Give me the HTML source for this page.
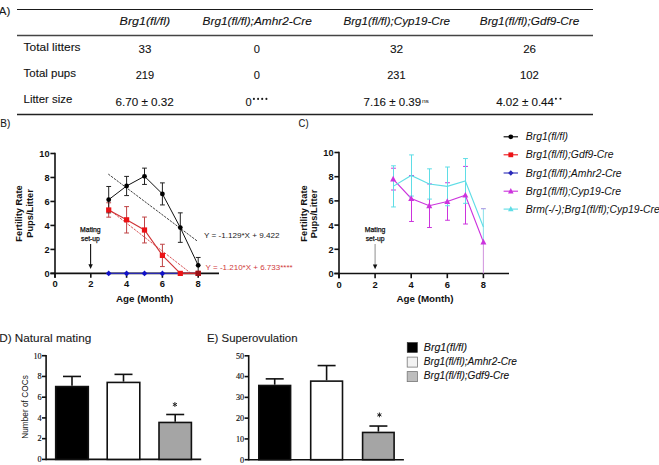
<!DOCTYPE html>
<html><head><meta charset="utf-8"><style>
html,body{margin:0;padding:0;background:#fff;width:659px;height:465px;overflow:hidden;}
svg{display:block;}
</style></head><body>
<svg width="659" height="465" viewBox="0 0 659 465">
<rect width="659" height="465" fill="#fff"/>
<text x="-1.2" y="15.3" font-size="10.8" text-anchor="start" font-weight="normal" font-style="normal" fill="#1a1a1a" font-family='"Liberation Sans", sans-serif' stroke="#1a1a1a" stroke-width="0.1" textLength="11.5" lengthAdjust="spacingAndGlyphs" >A)</text>
<line x1="17" y1="9.5" x2="593" y2="9.5" stroke="#1a1a1a" stroke-width="1.2" />
<line x1="17" y1="35.6" x2="593" y2="35.6" stroke="#444" stroke-width="1.5" />
<line x1="17" y1="114.5" x2="593" y2="114.5" stroke="#222" stroke-width="1.3" />
<text x="119.6" y="24.6" font-size="10.8" text-anchor="start" font-weight="normal" font-style="italic" fill="#111" font-family='"Liberation Sans", sans-serif' stroke="#111" stroke-width="0.1" textLength="50.5" lengthAdjust="spacingAndGlyphs" >Brg1(fl/fl)</text>
<text x="202.6" y="24.6" font-size="10.8" text-anchor="start" font-weight="normal" font-style="italic" fill="#111" font-family='"Liberation Sans", sans-serif' stroke="#111" stroke-width="0.1" textLength="109.2" lengthAdjust="spacingAndGlyphs" >Brg1(fl/fl);Amhr2-Cre</text>
<text x="343.4" y="24.6" font-size="10.8" text-anchor="start" font-weight="normal" font-style="italic" fill="#111" font-family='"Liberation Sans", sans-serif' stroke="#111" stroke-width="0.1" textLength="106.6" lengthAdjust="spacingAndGlyphs" >Brg1(fl/fl);Cyp19-Cre</text>
<text x="479.8" y="24.6" font-size="10.8" text-anchor="start" font-weight="normal" font-style="italic" fill="#111" font-family='"Liberation Sans", sans-serif' stroke="#111" stroke-width="0.1" textLength="99.4" lengthAdjust="spacingAndGlyphs" >Brg1(fl/fl);Gdf9-Cre</text>
<text x="23.6" y="50.6" font-size="10.8" text-anchor="start" font-weight="normal" font-style="normal" fill="#111" font-family='"Liberation Sans", sans-serif' stroke="#111" stroke-width="0.1" textLength="57" lengthAdjust="spacingAndGlyphs" >Total litters</text>
<text x="23.6" y="76.6" font-size="10.8" text-anchor="start" font-weight="normal" font-style="normal" fill="#111" font-family='"Liberation Sans", sans-serif' stroke="#111" stroke-width="0.1" textLength="52.4" lengthAdjust="spacingAndGlyphs" >Total pups</text>
<text x="23.6" y="103.0" font-size="10.8" text-anchor="start" font-weight="normal" font-style="normal" fill="#111" font-family='"Liberation Sans", sans-serif' stroke="#111" stroke-width="0.1" textLength="48.6" lengthAdjust="spacingAndGlyphs" >Litter size</text>
<text x="144.9" y="53.0" font-size="10.8" text-anchor="middle" font-weight="normal" font-style="normal" fill="#111" font-family='"Liberation Sans", sans-serif' stroke="#111" stroke-width="0.1" textLength="12.8" lengthAdjust="spacingAndGlyphs" >33</text>
<text x="144.9" y="79.0" font-size="10.8" text-anchor="middle" font-weight="normal" font-style="normal" fill="#111" font-family='"Liberation Sans", sans-serif' stroke="#111" stroke-width="0.1" textLength="18.4" lengthAdjust="spacingAndGlyphs" >219</text>
<text x="115.6" y="105.5" font-size="10.8" text-anchor="start" font-weight="normal" font-style="normal" fill="#111" font-family='"Liberation Sans", sans-serif' stroke="#111" stroke-width="0.1" textLength="58.2" lengthAdjust="spacingAndGlyphs" >6.70 ± 0.32</text>
<text x="256.9" y="53.0" font-size="10.8" text-anchor="middle" font-weight="normal" font-style="normal" fill="#111" font-family='"Liberation Sans", sans-serif' stroke="#111" stroke-width="0.1" textLength="6.2" lengthAdjust="spacingAndGlyphs" >0</text>
<text x="256.9" y="79.0" font-size="10.8" text-anchor="middle" font-weight="normal" font-style="normal" fill="#111" font-family='"Liberation Sans", sans-serif' stroke="#111" stroke-width="0.1" textLength="6.2" lengthAdjust="spacingAndGlyphs" >0</text>
<text x="245.4" y="105.5" font-size="10.8" text-anchor="start" font-weight="normal" font-style="normal" fill="#111" font-family='"Liberation Sans", sans-serif' stroke="#111" stroke-width="0.1" textLength="6.2" lengthAdjust="spacingAndGlyphs" >0</text>
<circle cx="253.9" cy="98.9" r="1.05" fill="#1a1a1a"/>
<circle cx="258.1" cy="98.9" r="1.05" fill="#1a1a1a"/>
<circle cx="262.2" cy="98.9" r="1.05" fill="#1a1a1a"/>
<circle cx="266.4" cy="98.9" r="1.05" fill="#1a1a1a"/>
<text x="396.5" y="53.0" font-size="10.8" text-anchor="middle" font-weight="normal" font-style="normal" fill="#111" font-family='"Liberation Sans", sans-serif' stroke="#111" stroke-width="0.1" textLength="13.2" lengthAdjust="spacingAndGlyphs" >32</text>
<text x="396.4" y="79.0" font-size="10.8" text-anchor="middle" font-weight="normal" font-style="normal" fill="#111" font-family='"Liberation Sans", sans-serif' stroke="#111" stroke-width="0.1" textLength="18.2" lengthAdjust="spacingAndGlyphs" >231</text>
<text x="363.6" y="105.5" font-size="10.8" text-anchor="start" font-weight="normal" font-style="normal" fill="#111" font-family='"Liberation Sans", sans-serif' stroke="#111" stroke-width="0.1" textLength="57.6" lengthAdjust="spacingAndGlyphs" >7.16 ± 0.39</text>
<text x="421.9" y="103.2" font-size="6.0" text-anchor="start" font-weight="normal" font-style="normal" fill="#111" font-family='"Liberation Sans", sans-serif' textLength="7.0" lengthAdjust="spacingAndGlyphs" >ns</text>
<text x="529.6" y="53.0" font-size="10.8" text-anchor="middle" font-weight="normal" font-style="normal" fill="#111" font-family='"Liberation Sans", sans-serif' stroke="#111" stroke-width="0.1" textLength="12.8" lengthAdjust="spacingAndGlyphs" >26</text>
<text x="529.4" y="79.0" font-size="10.8" text-anchor="middle" font-weight="normal" font-style="normal" fill="#111" font-family='"Liberation Sans", sans-serif' stroke="#111" stroke-width="0.1" textLength="18.8" lengthAdjust="spacingAndGlyphs" >102</text>
<text x="496.2" y="105.5" font-size="10.8" text-anchor="start" font-weight="normal" font-style="normal" fill="#111" font-family='"Liberation Sans", sans-serif' stroke="#111" stroke-width="0.1" textLength="57.8" lengthAdjust="spacingAndGlyphs" >4.02 ± 0.44</text>
<circle cx="555.9" cy="98.8" r="1.05" fill="#1a1a1a"/>
<circle cx="560.5" cy="98.8" r="1.05" fill="#1a1a1a"/>
<text x="0.3" y="127.4" font-size="10.8" text-anchor="start" font-weight="normal" font-style="normal" fill="#1a1a1a" font-family='"Liberation Sans", sans-serif' stroke="#1a1a1a" stroke-width="0.1" textLength="10" lengthAdjust="spacingAndGlyphs" >B)</text>
<line x1="55.0" y1="152.69999999999996" x2="55.0" y2="277.8" stroke="#111" stroke-width="1.6" />
<line x1="50.4" y1="273.4" x2="219" y2="273.4" stroke="#111" stroke-width="1.6" />
<line x1="50.4" y1="273.4" x2="55.0" y2="273.4" stroke="#111" stroke-width="1.6" />
<text x="49.5" y="276.9" font-size="9.2" text-anchor="end" font-weight="bold" font-style="normal" fill="#111" font-family='"Liberation Sans", sans-serif' >0</text>
<line x1="50.4" y1="249.42" x2="55.0" y2="249.42" stroke="#111" stroke-width="1.6" />
<text x="49.5" y="252.92" font-size="9.2" text-anchor="end" font-weight="bold" font-style="normal" fill="#111" font-family='"Liberation Sans", sans-serif' >2</text>
<line x1="50.4" y1="225.43999999999997" x2="55.0" y2="225.43999999999997" stroke="#111" stroke-width="1.6" />
<text x="49.5" y="228.93999999999997" font-size="9.2" text-anchor="end" font-weight="bold" font-style="normal" fill="#111" font-family='"Liberation Sans", sans-serif' >4</text>
<line x1="50.4" y1="201.45999999999998" x2="55.0" y2="201.45999999999998" stroke="#111" stroke-width="1.6" />
<text x="49.5" y="204.95999999999998" font-size="9.2" text-anchor="end" font-weight="bold" font-style="normal" fill="#111" font-family='"Liberation Sans", sans-serif' >6</text>
<line x1="50.4" y1="177.47999999999996" x2="55.0" y2="177.47999999999996" stroke="#111" stroke-width="1.6" />
<text x="49.5" y="180.97999999999996" font-size="9.2" text-anchor="end" font-weight="bold" font-style="normal" fill="#111" font-family='"Liberation Sans", sans-serif' >8</text>
<line x1="50.4" y1="153.49999999999997" x2="55.0" y2="153.49999999999997" stroke="#111" stroke-width="1.6" />
<text x="49.5" y="156.99999999999997" font-size="9.2" text-anchor="end" font-weight="bold" font-style="normal" fill="#111" font-family='"Liberation Sans", sans-serif' >10</text>
<line x1="55.0" y1="273.4" x2="55.0" y2="277.8" stroke="#111" stroke-width="1.6" />
<text x="55.0" y="287.3" font-size="9.4" text-anchor="middle" font-weight="bold" font-style="normal" fill="#111" font-family='"Liberation Sans", sans-serif' >0</text>
<line x1="90.8" y1="273.4" x2="90.8" y2="277.8" stroke="#111" stroke-width="1.6" />
<text x="90.8" y="287.3" font-size="9.4" text-anchor="middle" font-weight="bold" font-style="normal" fill="#111" font-family='"Liberation Sans", sans-serif' >2</text>
<line x1="126.6" y1="273.4" x2="126.6" y2="277.8" stroke="#111" stroke-width="1.6" />
<text x="126.6" y="287.3" font-size="9.4" text-anchor="middle" font-weight="bold" font-style="normal" fill="#111" font-family='"Liberation Sans", sans-serif' >4</text>
<line x1="162.39999999999998" y1="273.4" x2="162.39999999999998" y2="277.8" stroke="#111" stroke-width="1.6" />
<text x="162.39999999999998" y="287.3" font-size="9.4" text-anchor="middle" font-weight="bold" font-style="normal" fill="#111" font-family='"Liberation Sans", sans-serif' >6</text>
<line x1="198.2" y1="273.4" x2="198.2" y2="277.8" stroke="#111" stroke-width="1.6" />
<text x="198.2" y="287.3" font-size="9.4" text-anchor="middle" font-weight="bold" font-style="normal" fill="#111" font-family='"Liberation Sans", sans-serif' >8</text>
<text transform="translate(22.3,213.5) rotate(-90)" font-size="9.3" font-weight="bold" text-anchor="middle" font-family='"Liberation Sans", sans-serif' fill="#111">Fertility Rate</text>
<text transform="translate(32.6,213.5) rotate(-90)" font-size="9.3" font-weight="bold" text-anchor="middle" font-family='"Liberation Sans", sans-serif' fill="#111">Pups/Litter</text>
<text x="144.6" y="301.9" font-size="9.8" text-anchor="middle" font-weight="bold" font-style="normal" fill="#111" font-family='"Liberation Sans", sans-serif' >Age (Month)</text>
<text x="90.4" y="231.9" font-size="6.8" text-anchor="middle" font-weight="normal" font-style="normal" fill="#111" font-family='"Liberation Sans", sans-serif' stroke="#111" stroke-width="0.25" textLength="20.6" lengthAdjust="spacingAndGlyphs" >Mating</text>
<text x="90.4" y="240.9" font-size="6.8" text-anchor="middle" font-weight="normal" font-style="normal" fill="#111" font-family='"Liberation Sans", sans-serif' stroke="#111" stroke-width="0.25" textLength="18.8" lengthAdjust="spacingAndGlyphs" >set-up</text>
<line x1="90.6" y1="244" x2="90.6" y2="265" stroke="#111" stroke-width="1.1" />
<polygon points="88.4,264.2 92.8,264.2 90.6,269" fill="#111"/>
<line x1="108.3" y1="174.1" x2="197.6" y2="241.3" stroke="#1a1a1a" stroke-width="0.85" stroke-dasharray="2.4,1.1"/>
<line x1="109" y1="209.5" x2="190.5" y2="273" stroke="#cf3336" stroke-width="0.85" stroke-dasharray="2.4,1.1"/>
<polyline points="108.70,273.40 126.60,273.40 144.50,273.40 162.40,273.40 180.30,273.40 198.20,273.40" fill="none" stroke="#2a2ab0" stroke-width="1.1"/>
<line x1="108.69999999999999" y1="202.77889999999996" x2="108.69999999999999" y2="217.16689999999997" stroke="#bf4244" stroke-width="1.0" />
<line x1="106.29999999999998" y1="202.77889999999996" x2="111.1" y2="202.77889999999996" stroke="#bf4244" stroke-width="1.0" />
<line x1="106.29999999999998" y1="217.16689999999997" x2="111.1" y2="217.16689999999997" stroke="#bf4244" stroke-width="1.0" />
<line x1="126.6" y1="206.61569999999998" x2="126.6" y2="232.9937" stroke="#bf4244" stroke-width="1.0" />
<line x1="124.19999999999999" y1="206.61569999999998" x2="129.0" y2="206.61569999999998" stroke="#bf4244" stroke-width="1.0" />
<line x1="124.19999999999999" y1="232.9937" x2="129.0" y2="232.9937" stroke="#bf4244" stroke-width="1.0" />
<line x1="144.5" y1="217.04699999999997" x2="144.5" y2="242.94539999999998" stroke="#bf4244" stroke-width="1.0" />
<line x1="142.1" y1="217.04699999999997" x2="146.9" y2="217.04699999999997" stroke="#bf4244" stroke-width="1.0" />
<line x1="142.1" y1="242.94539999999998" x2="146.9" y2="242.94539999999998" stroke="#bf4244" stroke-width="1.0" />
<line x1="162.39999999999998" y1="244.26429999999996" x2="162.39999999999998" y2="266.5657" stroke="#bf4244" stroke-width="1.0" />
<line x1="159.99999999999997" y1="244.26429999999996" x2="164.79999999999998" y2="244.26429999999996" stroke="#bf4244" stroke-width="1.0" />
<line x1="159.99999999999997" y1="266.5657" x2="164.79999999999998" y2="266.5657" stroke="#bf4244" stroke-width="1.0" />
<polyline points="108.70,209.97 126.60,219.80 144.50,230.00 162.40,255.41 180.30,273.40 198.20,273.40" fill="none" stroke="#cf3336" stroke-width="1.1"/>
<line x1="180.29999999999998" y1="273.4" x2="198.2" y2="273.4" stroke="#c8282c" stroke-width="1.4" />
<line x1="108.69999999999999" y1="186.47249999999997" x2="108.69999999999999" y2="212.85049999999995" stroke="#222" stroke-width="1.0" />
<line x1="106.29999999999998" y1="186.47249999999997" x2="111.1" y2="186.47249999999997" stroke="#222" stroke-width="1.0" />
<line x1="106.29999999999998" y1="212.85049999999995" x2="111.1" y2="212.85049999999995" stroke="#222" stroke-width="1.0" />
<line x1="126.6" y1="176.40089999999998" x2="126.6" y2="195.58489999999998" stroke="#222" stroke-width="1.0" />
<line x1="124.19999999999999" y1="176.40089999999998" x2="129.0" y2="176.40089999999998" stroke="#222" stroke-width="1.0" />
<line x1="124.19999999999999" y1="195.58489999999998" x2="129.0" y2="195.58489999999998" stroke="#222" stroke-width="1.0" />
<line x1="144.5" y1="168.12779999999998" x2="144.5" y2="184.43419999999998" stroke="#222" stroke-width="1.0" />
<line x1="142.1" y1="168.12779999999998" x2="146.9" y2="168.12779999999998" stroke="#222" stroke-width="1.0" />
<line x1="142.1" y1="184.43419999999998" x2="146.9" y2="184.43419999999998" stroke="#222" stroke-width="1.0" />
<line x1="162.39999999999998" y1="182.8755" x2="162.39999999999998" y2="204.9371" stroke="#222" stroke-width="1.0" />
<line x1="159.99999999999997" y1="182.8755" x2="164.79999999999998" y2="182.8755" stroke="#222" stroke-width="1.0" />
<line x1="159.99999999999997" y1="204.9371" x2="164.79999999999998" y2="204.9371" stroke="#222" stroke-width="1.0" />
<line x1="180.29999999999998" y1="212.85049999999998" x2="180.29999999999998" y2="242.34589999999997" stroke="#222" stroke-width="1.0" />
<line x1="177.89999999999998" y1="212.85049999999998" x2="182.7" y2="212.85049999999998" stroke="#222" stroke-width="1.0" />
<line x1="177.89999999999998" y1="242.34589999999997" x2="182.7" y2="242.34589999999997" stroke="#222" stroke-width="1.0" />
<line x1="198.2" y1="257.45329999999996" x2="198.2" y2="273.2801" stroke="#222" stroke-width="1.0" />
<line x1="195.79999999999998" y1="257.45329999999996" x2="200.6" y2="257.45329999999996" stroke="#222" stroke-width="1.0" />
<line x1="195.79999999999998" y1="273.2801" x2="200.6" y2="273.2801" stroke="#222" stroke-width="1.0" />
<polyline points="108.70,199.66 126.60,185.99 144.50,176.28 162.40,193.91 180.30,227.60 198.20,265.37" fill="none" stroke="#111" stroke-width="1.0"/>
<polygon points="105.80,273.40 108.70,270.50 111.60,273.40 108.70,276.30" fill="#1212c8"/>
<polygon points="123.70,273.40 126.60,270.50 129.50,273.40 126.60,276.30" fill="#1212c8"/>
<polygon points="141.60,273.40 144.50,270.50 147.40,273.40 144.50,276.30" fill="#1212c8"/>
<polygon points="159.50,273.40 162.40,270.50 165.30,273.40 162.40,276.30" fill="#1212c8"/>
<circle cx="108.70" cy="199.66" r="2.4" fill="#000"/>
<circle cx="126.60" cy="185.99" r="2.4" fill="#000"/>
<circle cx="144.50" cy="176.28" r="2.4" fill="#000"/>
<circle cx="162.40" cy="193.91" r="2.4" fill="#000"/>
<circle cx="180.30" cy="227.60" r="2.4" fill="#000"/>
<circle cx="198.20" cy="265.37" r="2.4" fill="#000"/>
<rect x="106.10" y="207.37" width="5.2" height="5.2" fill="#ec1216"/>
<rect x="124.00" y="217.20" width="5.2" height="5.2" fill="#ec1216"/>
<rect x="141.90" y="227.40" width="5.2" height="5.2" fill="#ec1216"/>
<rect x="159.80" y="252.81" width="5.2" height="5.2" fill="#ec1216"/>
<rect x="177.70" y="270.80" width="5.2" height="5.2" fill="#ec1216"/>
<rect x="195.60" y="270.80" width="5.2" height="5.2" fill="#ec1216"/>
<rect x="195.60" y="270.80" width="5.2" height="5.2" fill="#9b1016"/>
<text x="204.0" y="237.9" font-size="8.1" text-anchor="start" font-weight="normal" font-style="normal" fill="#222" font-family='"Liberation Sans", sans-serif' >Y = -1.129*X + 9.422</text>
<text x="205.6" y="270.1" font-size="8.0" text-anchor="start" font-weight="normal" font-style="normal" fill="#d0393b" font-family='"Liberation Sans", sans-serif' >Y = -1.210*X + 6.733****</text>
<text x="298.6" y="127.4" font-size="10.8" text-anchor="start" font-weight="normal" font-style="normal" fill="#1a1a1a" font-family='"Liberation Sans", sans-serif' stroke="#1a1a1a" stroke-width="0.1" textLength="10" lengthAdjust="spacingAndGlyphs" >C)</text>
<line x1="339.0" y1="151.7" x2="339.0" y2="278.2" stroke="#111" stroke-width="1.6" />
<line x1="334.4" y1="273.5" x2="509" y2="273.5" stroke="#111" stroke-width="1.6" />
<line x1="334.4" y1="273.5" x2="339.0" y2="273.5" stroke="#111" stroke-width="1.6" />
<text x="333.5" y="277.0" font-size="9.2" text-anchor="end" font-weight="bold" font-style="normal" fill="#111" font-family='"Liberation Sans", sans-serif' >0</text>
<line x1="334.4" y1="249.3" x2="339.0" y2="249.3" stroke="#111" stroke-width="1.6" />
<text x="333.5" y="252.8" font-size="9.2" text-anchor="end" font-weight="bold" font-style="normal" fill="#111" font-family='"Liberation Sans", sans-serif' >2</text>
<line x1="334.4" y1="225.1" x2="339.0" y2="225.1" stroke="#111" stroke-width="1.6" />
<text x="333.5" y="228.6" font-size="9.2" text-anchor="end" font-weight="bold" font-style="normal" fill="#111" font-family='"Liberation Sans", sans-serif' >4</text>
<line x1="334.4" y1="200.9" x2="339.0" y2="200.9" stroke="#111" stroke-width="1.6" />
<text x="333.5" y="204.4" font-size="9.2" text-anchor="end" font-weight="bold" font-style="normal" fill="#111" font-family='"Liberation Sans", sans-serif' >6</text>
<line x1="334.4" y1="176.7" x2="339.0" y2="176.7" stroke="#111" stroke-width="1.6" />
<text x="333.5" y="180.2" font-size="9.2" text-anchor="end" font-weight="bold" font-style="normal" fill="#111" font-family='"Liberation Sans", sans-serif' >8</text>
<line x1="334.4" y1="152.5" x2="339.0" y2="152.5" stroke="#111" stroke-width="1.6" />
<text x="333.5" y="156.0" font-size="9.2" text-anchor="end" font-weight="bold" font-style="normal" fill="#111" font-family='"Liberation Sans", sans-serif' >10</text>
<line x1="339.0" y1="273.5" x2="339.0" y2="278.2" stroke="#111" stroke-width="1.6" />
<text x="339.0" y="287.8" font-size="9.4" text-anchor="middle" font-weight="bold" font-style="normal" fill="#111" font-family='"Liberation Sans", sans-serif' >0</text>
<line x1="375.1" y1="273.5" x2="375.1" y2="278.2" stroke="#111" stroke-width="1.6" />
<text x="375.1" y="287.8" font-size="9.4" text-anchor="middle" font-weight="bold" font-style="normal" fill="#111" font-family='"Liberation Sans", sans-serif' >2</text>
<line x1="411.2" y1="273.5" x2="411.2" y2="278.2" stroke="#111" stroke-width="1.6" />
<text x="411.2" y="287.8" font-size="9.4" text-anchor="middle" font-weight="bold" font-style="normal" fill="#111" font-family='"Liberation Sans", sans-serif' >4</text>
<line x1="447.3" y1="273.5" x2="447.3" y2="278.2" stroke="#111" stroke-width="1.6" />
<text x="447.3" y="287.8" font-size="9.4" text-anchor="middle" font-weight="bold" font-style="normal" fill="#111" font-family='"Liberation Sans", sans-serif' >6</text>
<line x1="483.4" y1="273.5" x2="483.4" y2="278.2" stroke="#111" stroke-width="1.6" />
<text x="483.4" y="287.8" font-size="9.4" text-anchor="middle" font-weight="bold" font-style="normal" fill="#111" font-family='"Liberation Sans", sans-serif' >8</text>
<text transform="translate(307.0,213.5) rotate(-90)" font-size="9.3" font-weight="bold" text-anchor="middle" font-family='"Liberation Sans", sans-serif' fill="#111">Fertility Rate</text>
<text transform="translate(317.2,214) rotate(-90)" font-size="9.3" font-weight="bold" text-anchor="middle" font-family='"Liberation Sans", sans-serif' fill="#111">Pups/Litter</text>
<text x="425.0" y="302.0" font-size="9.8" text-anchor="middle" font-weight="bold" font-style="normal" fill="#111" font-family='"Liberation Sans", sans-serif' >Age (Month)</text>
<text x="375.1" y="231.9" font-size="6.8" text-anchor="middle" font-weight="normal" font-style="normal" fill="#111" font-family='"Liberation Sans", sans-serif' stroke="#111" stroke-width="0.25" textLength="20.6" lengthAdjust="spacingAndGlyphs" >Mating</text>
<text x="375.1" y="240.9" font-size="6.8" text-anchor="middle" font-weight="normal" font-style="normal" fill="#111" font-family='"Liberation Sans", sans-serif' stroke="#111" stroke-width="0.25" textLength="18.8" lengthAdjust="spacingAndGlyphs" >set-up</text>
<line x1="375.1" y1="244" x2="375.1" y2="265" stroke="#999" stroke-width="1.1" />
<polygon points="372.9,264.4 377.3,264.4 375.1,269.2" fill="#111"/>
<line x1="393.5" y1="168.23000000000002" x2="393.5" y2="190.01" stroke="#cc33dd" stroke-width="1.0" />
<line x1="391.1" y1="168.23000000000002" x2="395.9" y2="168.23000000000002" stroke="#cc33dd" stroke-width="1.0" />
<line x1="391.1" y1="190.01" x2="395.9" y2="190.01" stroke="#cc33dd" stroke-width="1.0" />
<line x1="411.5" y1="175.49" x2="411.5" y2="221.47" stroke="#cc33dd" stroke-width="1.0" />
<line x1="409.1" y1="175.49" x2="413.9" y2="175.49" stroke="#cc33dd" stroke-width="1.0" />
<line x1="409.1" y1="221.47" x2="413.9" y2="221.47" stroke="#cc33dd" stroke-width="1.0" />
<line x1="429.5" y1="183.96" x2="429.5" y2="227.52" stroke="#cc33dd" stroke-width="1.0" />
<line x1="427.1" y1="183.96" x2="431.9" y2="183.96" stroke="#cc33dd" stroke-width="1.0" />
<line x1="427.1" y1="227.52" x2="431.9" y2="227.52" stroke="#cc33dd" stroke-width="1.0" />
<line x1="447.5" y1="182.75" x2="447.5" y2="220.26" stroke="#cc33dd" stroke-width="1.0" />
<line x1="445.1" y1="182.75" x2="449.9" y2="182.75" stroke="#cc33dd" stroke-width="1.0" />
<line x1="445.1" y1="220.26" x2="449.9" y2="220.26" stroke="#cc33dd" stroke-width="1.0" />
<line x1="465.5" y1="166.41500000000002" x2="465.5" y2="224.011" stroke="#cc33dd" stroke-width="1.0" />
<line x1="463.1" y1="166.41500000000002" x2="467.9" y2="166.41500000000002" stroke="#cc33dd" stroke-width="1.0" />
<line x1="463.1" y1="224.011" x2="467.9" y2="224.011" stroke="#cc33dd" stroke-width="1.0" />
<polyline points="393.15,179.12 411.20,198.48 429.25,205.74 447.30,201.50 465.35,195.21 483.40,242.04" fill="none" stroke="#cc33dd" stroke-width="1.1"/>
<line x1="483.4" y1="273.5" x2="483.4" y2="242.04" stroke="#d49be0" stroke-width="1.1" />
<line x1="483.4" y1="244.46" x2="483.4" y2="208.644" stroke="#93e3ec" stroke-width="1.1" />
<line x1="481.0" y1="208.644" x2="485.79999999999995" y2="208.644" stroke="#b3a6e6" stroke-width="1.3" />
<line x1="393.5" y1="165.81" x2="393.5" y2="206.95" stroke="#5fdde6" stroke-width="1.0" />
<line x1="391.1" y1="165.81" x2="395.9" y2="165.81" stroke="#5fdde6" stroke-width="1.0" />
<line x1="391.1" y1="206.95" x2="395.9" y2="206.95" stroke="#5fdde6" stroke-width="1.0" />
<line x1="411.5" y1="154.92000000000002" x2="411.5" y2="196.06" stroke="#5fdde6" stroke-width="1.0" />
<line x1="409.1" y1="154.92000000000002" x2="413.9" y2="154.92000000000002" stroke="#5fdde6" stroke-width="1.0" />
<line x1="409.1" y1="196.06" x2="413.9" y2="196.06" stroke="#5fdde6" stroke-width="1.0" />
<line x1="429.5" y1="168.83499999999998" x2="429.5" y2="199.08499999999998" stroke="#5fdde6" stroke-width="1.0" />
<line x1="427.1" y1="168.83499999999998" x2="431.9" y2="168.83499999999998" stroke="#5fdde6" stroke-width="1.0" />
<line x1="427.1" y1="199.08499999999998" x2="431.9" y2="199.08499999999998" stroke="#5fdde6" stroke-width="1.0" />
<line x1="447.5" y1="167.01999999999998" x2="447.5" y2="205.74" stroke="#5fdde6" stroke-width="1.0" />
<line x1="445.1" y1="167.01999999999998" x2="449.9" y2="167.01999999999998" stroke="#5fdde6" stroke-width="1.0" />
<line x1="445.1" y1="205.74" x2="449.9" y2="205.74" stroke="#5fdde6" stroke-width="1.0" />
<line x1="465.5" y1="158.55" x2="465.5" y2="203.32" stroke="#5fdde6" stroke-width="1.0" />
<line x1="463.1" y1="158.55" x2="467.9" y2="158.55" stroke="#5fdde6" stroke-width="1.0" />
<line x1="463.1" y1="203.32" x2="467.9" y2="203.32" stroke="#5fdde6" stroke-width="1.0" />
<polyline points="393.15,186.38 411.20,175.49 429.25,183.96 447.30,186.38 465.35,180.94 483.40,227.04" fill="none" stroke="#5fdde6" stroke-width="1.1"/>
<polygon points="390.15,181.52 393.15,175.82 396.15,181.52" fill="#cc33dd"/>
<polygon points="408.20,200.88 411.20,195.18 414.20,200.88" fill="#cc33dd"/>
<polygon points="426.25,208.14 429.25,202.44 432.25,208.14" fill="#cc33dd"/>
<polygon points="444.30,203.91 447.30,198.20 450.30,203.91" fill="#cc33dd"/>
<polygon points="462.35,197.61 465.35,191.91 468.35,197.61" fill="#cc33dd"/>
<polygon points="480.40,244.44 483.40,238.74 486.40,244.44" fill="#cc33dd"/>
<line x1="503.6" y1="136.8" x2="518" y2="136.8" stroke="#000" stroke-width="1.1" />
<circle cx="510.80" cy="136.80" r="2.4" fill="#000"/>
<text x="525.8" y="140.3" font-size="10.4" text-anchor="start" font-weight="normal" font-style="italic" fill="#111" font-family='"Liberation Sans", sans-serif' >Brg1(fl/fl)</text>
<line x1="503.6" y1="154.8" x2="518" y2="154.8" stroke="#ec1216" stroke-width="1.1" />
<rect x="508.40" y="152.40" width="4.8" height="4.8" fill="#ec1216"/>
<text x="525.8" y="158.3" font-size="10.4" text-anchor="start" font-weight="normal" font-style="italic" fill="#111" font-family='"Liberation Sans", sans-serif' >Brg1(fl/fl);Gdf9-Cre</text>
<line x1="503.6" y1="173.0" x2="518" y2="173.0" stroke="#2a2ab8" stroke-width="1.1" />
<polygon points="508.10,173.00 510.80,170.30 513.50,173.00 510.80,175.70" fill="#2a2ab8"/>
<text x="525.8" y="176.5" font-size="10.4" text-anchor="start" font-weight="normal" font-style="italic" fill="#111" font-family='"Liberation Sans", sans-serif' >Brg1(fl/fl);Amhr2-Cre</text>
<line x1="503.6" y1="191.2" x2="518" y2="191.2" stroke="#cc33dd" stroke-width="1.1" />
<polygon points="508.00,193.44 510.80,188.12 513.60,193.44" fill="#cc33dd"/>
<text x="525.8" y="194.7" font-size="10.4" text-anchor="start" font-weight="normal" font-style="italic" fill="#111" font-family='"Liberation Sans", sans-serif' >Brg1(fl/fl);Cyp19-Cre</text>
<line x1="503.6" y1="209.1" x2="518" y2="209.1" stroke="#5fdde6" stroke-width="1.1" />
<polygon points="508.00,211.34 510.80,206.02 513.60,211.34" fill="#5fdde6"/>
<text x="525.8" y="212.6" font-size="10.4" text-anchor="start" font-weight="normal" font-style="italic" fill="#111" font-family='"Liberation Sans", sans-serif' >Brm(-/-);Brg1(fl/fl);Cyp19-Cre</text>
<text x="-0.8" y="341.5" font-size="11.6" text-anchor="start" font-weight="normal" font-style="normal" fill="#1a1a1a" font-family='"Liberation Sans", sans-serif' stroke="#1a1a1a" stroke-width="0.1" textLength="92" lengthAdjust="spacingAndGlyphs" >D) Natural mating</text>
<line x1="46.1" y1="354.9" x2="46.1" y2="460.2" stroke="#111" stroke-width="1.6" />
<line x1="46.1" y1="459.4" x2="201.2" y2="459.4" stroke="#111" stroke-width="1.6" />
<line x1="42.0" y1="459.4" x2="46.1" y2="459.4" stroke="#111" stroke-width="1.6" />
<text x="41.6" y="462.2" font-size="8.2" text-anchor="end" font-weight="normal" font-style="normal" fill="#111" font-family='"Liberation Serif", serif' stroke="#111" stroke-width="0.15" >0</text>
<line x1="42.0" y1="438.65999999999997" x2="46.1" y2="438.65999999999997" stroke="#111" stroke-width="1.6" />
<text x="41.6" y="441.46" font-size="8.2" text-anchor="end" font-weight="normal" font-style="normal" fill="#111" font-family='"Liberation Serif", serif' stroke="#111" stroke-width="0.15" >2</text>
<line x1="42.0" y1="417.91999999999996" x2="46.1" y2="417.91999999999996" stroke="#111" stroke-width="1.6" />
<text x="41.6" y="420.71999999999997" font-size="8.2" text-anchor="end" font-weight="normal" font-style="normal" fill="#111" font-family='"Liberation Serif", serif' stroke="#111" stroke-width="0.15" >4</text>
<line x1="42.0" y1="397.17999999999995" x2="46.1" y2="397.17999999999995" stroke="#111" stroke-width="1.6" />
<text x="41.6" y="399.97999999999996" font-size="8.2" text-anchor="end" font-weight="normal" font-style="normal" fill="#111" font-family='"Liberation Serif", serif' stroke="#111" stroke-width="0.15" >6</text>
<line x1="42.0" y1="376.44" x2="46.1" y2="376.44" stroke="#111" stroke-width="1.6" />
<text x="41.6" y="379.24" font-size="8.2" text-anchor="end" font-weight="normal" font-style="normal" fill="#111" font-family='"Liberation Serif", serif' stroke="#111" stroke-width="0.15" >8</text>
<line x1="42.0" y1="355.7" x2="46.1" y2="355.7" stroke="#111" stroke-width="1.6" />
<text x="41.6" y="358.5" font-size="8.2" text-anchor="end" font-weight="normal" font-style="normal" fill="#111" font-family='"Liberation Serif", serif' stroke="#111" stroke-width="0.15" >10</text>
<text transform="translate(27.8,407) rotate(-90)" font-size="8.3" text-anchor="middle" font-family='"Liberation Sans", sans-serif' fill="#111">Number of COCs</text>
<rect x="55.699999999999996" y="386.573" width="32.599999999999994" height="72.82700000000001" fill="#000" stroke="#111" stroke-width="1.6"/>
<line x1="72.0" y1="376.44" x2="72.0" y2="385.77299999999997" stroke="#111" stroke-width="1.6" />
<line x1="63.0" y1="376.44" x2="81.0" y2="376.44" stroke="#111" stroke-width="1.6" />
<rect x="107.2" y="382.425" width="32.59999999999999" height="76.97499999999998" fill="#fff" stroke="#111" stroke-width="1.6"/>
<line x1="123.5" y1="374.366" x2="123.5" y2="381.625" stroke="#111" stroke-width="1.6" />
<line x1="114.5" y1="374.366" x2="132.5" y2="374.366" stroke="#111" stroke-width="1.6" />
<rect x="159.0" y="422.4532" width="32.4" height="36.94680000000001" fill="#a5a5a5" stroke="#111" stroke-width="1.6"/>
<line x1="175.2" y1="414.49789999999996" x2="175.2" y2="421.65319999999997" stroke="#111" stroke-width="1.6" />
<line x1="166.2" y1="414.49789999999996" x2="184.2" y2="414.49789999999996" stroke="#111" stroke-width="1.6" />
<line x1="174.9" y1="402.1" x2="174.9" y2="406.9" stroke="#222" stroke-width="1.0" />
<line x1="176.98" y1="403.3" x2="172.82" y2="405.7" stroke="#222" stroke-width="1.0" />
<line x1="176.98" y1="405.7" x2="172.82" y2="403.3" stroke="#222" stroke-width="1.0" />
<text x="207.0" y="342.0" font-size="11.6" text-anchor="start" font-weight="normal" font-style="normal" fill="#1a1a1a" font-family='"Liberation Sans", sans-serif' stroke="#1a1a1a" stroke-width="0.1" textLength="90.5" lengthAdjust="spacingAndGlyphs" >E) Superovulation</text>
<line x1="248.7" y1="355.0" x2="248.7" y2="460.5" stroke="#111" stroke-width="1.6" />
<line x1="248.7" y1="459.7" x2="403.9" y2="459.7" stroke="#111" stroke-width="1.6" />
<line x1="244.6" y1="459.7" x2="248.7" y2="459.7" stroke="#111" stroke-width="1.6" />
<text x="244.2" y="462.5" font-size="8.2" text-anchor="end" font-weight="normal" font-style="normal" fill="#111" font-family='"Liberation Serif", serif' stroke="#111" stroke-width="0.15" >0</text>
<line x1="244.6" y1="438.92" x2="248.7" y2="438.92" stroke="#111" stroke-width="1.6" />
<text x="244.2" y="441.72" font-size="8.2" text-anchor="end" font-weight="normal" font-style="normal" fill="#111" font-family='"Liberation Serif", serif' stroke="#111" stroke-width="0.15" >10</text>
<line x1="244.6" y1="418.14" x2="248.7" y2="418.14" stroke="#111" stroke-width="1.6" />
<text x="244.2" y="420.94" font-size="8.2" text-anchor="end" font-weight="normal" font-style="normal" fill="#111" font-family='"Liberation Serif", serif' stroke="#111" stroke-width="0.15" >20</text>
<line x1="244.6" y1="397.36" x2="248.7" y2="397.36" stroke="#111" stroke-width="1.6" />
<text x="244.2" y="400.16" font-size="8.2" text-anchor="end" font-weight="normal" font-style="normal" fill="#111" font-family='"Liberation Serif", serif' stroke="#111" stroke-width="0.15" >30</text>
<line x1="244.6" y1="376.58" x2="248.7" y2="376.58" stroke="#111" stroke-width="1.6" />
<text x="244.2" y="379.38" font-size="8.2" text-anchor="end" font-weight="normal" font-style="normal" fill="#111" font-family='"Liberation Serif", serif' stroke="#111" stroke-width="0.15" >40</text>
<line x1="244.6" y1="355.8" x2="248.7" y2="355.8" stroke="#111" stroke-width="1.6" />
<text x="244.2" y="358.6" font-size="8.2" text-anchor="end" font-weight="normal" font-style="normal" fill="#111" font-family='"Liberation Serif", serif' stroke="#111" stroke-width="0.15" >50</text>
<rect x="258.8" y="385.4842" width="31.799999999999976" height="74.21580000000002" fill="#000" stroke="#111" stroke-width="1.6"/>
<line x1="274.7" y1="378.8658" x2="274.7" y2="384.6842" stroke="#111" stroke-width="1.6" />
<line x1="265.7" y1="378.8658" x2="283.7" y2="378.8658" stroke="#111" stroke-width="1.6" />
<rect x="310.7" y="381.1204" width="31.800000000000033" height="78.57959999999999" fill="#fff" stroke="#111" stroke-width="1.6"/>
<line x1="326.6" y1="365.5666" x2="326.6" y2="380.3204" stroke="#111" stroke-width="1.6" />
<line x1="317.6" y1="365.5666" x2="335.6" y2="365.5666" stroke="#111" stroke-width="1.6" />
<rect x="362.6" y="432.447" width="31.499999999999964" height="27.252999999999997" fill="#a5a5a5" stroke="#111" stroke-width="1.6"/>
<line x1="378.4" y1="426.0364" x2="378.4" y2="431.647" stroke="#111" stroke-width="1.6" />
<line x1="369.4" y1="426.0364" x2="387.4" y2="426.0364" stroke="#111" stroke-width="1.6" />
<line x1="379.4" y1="412.5" x2="379.4" y2="417.3" stroke="#222" stroke-width="1.0" />
<line x1="381.48" y1="413.7" x2="377.32" y2="416.1" stroke="#222" stroke-width="1.0" />
<line x1="381.48" y1="416.1" x2="377.32" y2="413.7" stroke="#222" stroke-width="1.0" />
<rect x="407.2" y="342.5" width="10.2" height="10" fill="#000" stroke="#333" stroke-width="0.6"/>
<rect x="407.2" y="357.1" width="10.2" height="10" fill="#f2f2f2" stroke="#777" stroke-width="0.8"/>
<rect x="407.2" y="371.6" width="10.2" height="10" fill="#bdbdbd" stroke="#777" stroke-width="0.8"/>
<text x="423.8" y="350.9" font-size="10.4" text-anchor="start" font-weight="normal" font-style="italic" fill="#111" font-family='"Liberation Sans", sans-serif' stroke="#111" stroke-width="0.1" textLength="43.2" lengthAdjust="spacingAndGlyphs" >Brg1(fl/fl)</text>
<text x="423.8" y="365.0" font-size="10.4" text-anchor="start" font-weight="normal" font-style="italic" fill="#111" font-family='"Liberation Sans", sans-serif' stroke="#111" stroke-width="0.1" textLength="93.2" lengthAdjust="spacingAndGlyphs" >Brg1(fl/fl);Amhr2-Cre</text>
<text x="423.8" y="379.2" font-size="10.4" text-anchor="start" font-weight="normal" font-style="italic" fill="#111" font-family='"Liberation Sans", sans-serif' stroke="#111" stroke-width="0.1" textLength="85.4" lengthAdjust="spacingAndGlyphs" >Brg1(fl/fl);Gdf9-Cre</text>
</svg>
</body></html>
